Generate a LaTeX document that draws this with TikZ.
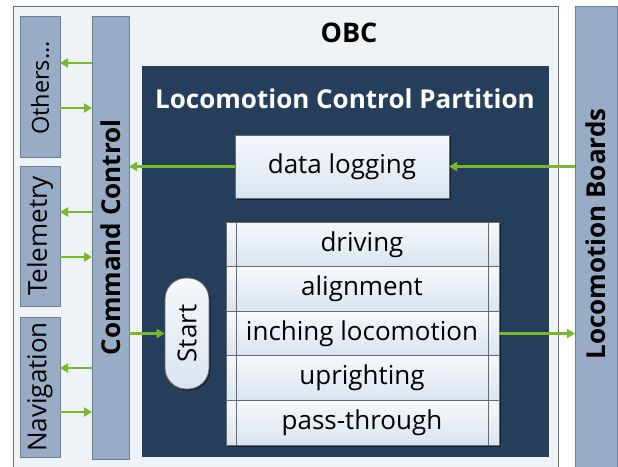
\documentclass[tikz,border=0pt]{standalone}
\usepackage{fontspec}
\setmainfont{Open Sans}
\usetikzlibrary{arrows.meta,shadows,calc}
\definecolor{obcfill}{HTML}{EEF3F8}
\definecolor{obcline}{HTML}{707070}
\definecolor{bluebox}{HTML}{98ACC6}
\definecolor{blueline}{HTML}{6C7F96}
\definecolor{partition}{HTML}{243E5B}
\definecolor{flow}{HTML}{7AB929}
\definecolor{celltop}{HTML}{F6F9FC}
\definecolor{cellbot}{HTML}{DAE4F0}
\definecolor{cellline}{HTML}{6A6A6A}
\newcommand{\lblsize}{\fontsize{26}{30}\selectfont}
\tikzset{
  x=1pt, y=-1pt,
  bluebar/.style={draw=blueline, line width=1pt, fill=bluebox, inner sep=0pt, outer sep=0pt},
  cell/.style={draw=cellline, line width=0.8pt, top color=celltop, bottom color=cellbot,
    inner sep=0pt, outer sep=0pt, font=\lblsize},
  shade/.style={drop shadow={shadow xshift=1.5pt, shadow yshift=-1.5pt, fill=black, opacity=0.45}},
  flowarrow/.style={draw=flow, line width=2.4pt, -{Triangle[width=9pt,length=8pt]}}
}
\begin{document}
\begin{tikzpicture}
\useasboundingbox (0,0) rectangle (618,466);
\fill[white] (0,0) rectangle (618,466);
% on-board computer frame (runs off the bottom edge)
\begin{scope}
\clip (0,0) rectangle (618,466);
\draw[obcline, fill=obcfill, line width=1pt] (13,6) rectangle (558,480);
\end{scope}
\node[font=\bfseries\fontsize{27}{30}\selectfont] (obc) at (349,33) {OBC};

% external boards
\begin{scope}
\clip (0,0) rectangle (618,466);
\node[bluebar, minimum width=42pt, minimum height=474pt] (boards) at (596,243) {};
\end{scope}
\node at (596,234) {\rotatebox{90}{\bfseries\lblsize Locomotion Boards}};

% left-hand subsystems
\node[bluebar, minimum width=40pt, minimum height=141pt] (others) at (40,86.5) {};
\node at (40,88) {\rotatebox{90}{\fontsize{23.5}{26}\selectfont Others...}};
\node[bluebar, minimum width=40pt, minimum height=140pt] (telemetry) at (40,236) {\rotatebox{90}{\lblsize Telemetry}};
\node[bluebar, minimum width=40pt, minimum height=140pt] (navigation) at (40,387) {\rotatebox{90}{\lblsize Navigation}};
\node[bluebar, minimum width=37pt, minimum height=443pt] (cmd) at (110.5,237.5) {\rotatebox{90}{\bfseries\lblsize Command Control}};

% partition
\fill[partition] (142,66) rectangle (549,457);
\node[text=white, font=\bfseries\lblsize] (lcp) at (345,99) {Locomotion Control Partition};

\node[cell, shade, minimum width=214pt, minimum height=63pt] (log) at (342,166.5) {data logging};

% mode table
\fill[black, opacity=0.45] (227.5,223.5) rectangle (500.5,446.5);
\foreach \t [count=\i] in {driving,alignment,inching locomotion,uprighting,pass-through}{
  \node[cell, minimum width=273pt, minimum height=44.6pt] (row\i) at (362.5,{222+22.3+(\i-1)*44.6}) {};
  \node[font=\lblsize] at (362,{222+22.3+(\i-1)*44.6}) {\t};
}
\draw[cellline, line width=0.8pt] (row1.north west) ++(10,0) -- ($(row5.south west)+(10,0)$);
\draw[cellline, line width=0.8pt] (row1.north east) ++(-11,0) -- ($(row5.south east)+(-11,0)$);

\node[draw=cellline, line width=0.8pt, top color=celltop, bottom color=cellbot, shade,
  rounded corners=21pt, minimum width=44pt, minimum height=111pt, inner sep=0pt] (start) at (187,333.5)
  {\rotatebox{90}{\lblsize Start}};

% data flows
\draw[flowarrow] (boards.west |- log.east) -- (log.east);
\draw[flowarrow] (log.west) -- (cmd.east |- log.west);
\draw[flowarrow] (cmd.east |- start.west) -- (start.west);
\draw[flowarrow] (row3.east) -- (boards.west |- row3.east);

\draw[flowarrow] (cmd.west |- 0,63) -- (others.east |- 0,63);
\draw[flowarrow] (others.east |- 0,108) -- (cmd.west |- 0,108);
\draw[flowarrow] (cmd.west |- 0,212) -- (telemetry.east |- 0,212);
\draw[flowarrow] (telemetry.east |- 0,257) -- (cmd.west |- 0,257);
\draw[flowarrow] (cmd.west |- 0,368) -- (navigation.east |- 0,368);
\draw[flowarrow] (navigation.east |- 0,412) -- (cmd.west |- 0,412);
\end{tikzpicture}
\end{document}
